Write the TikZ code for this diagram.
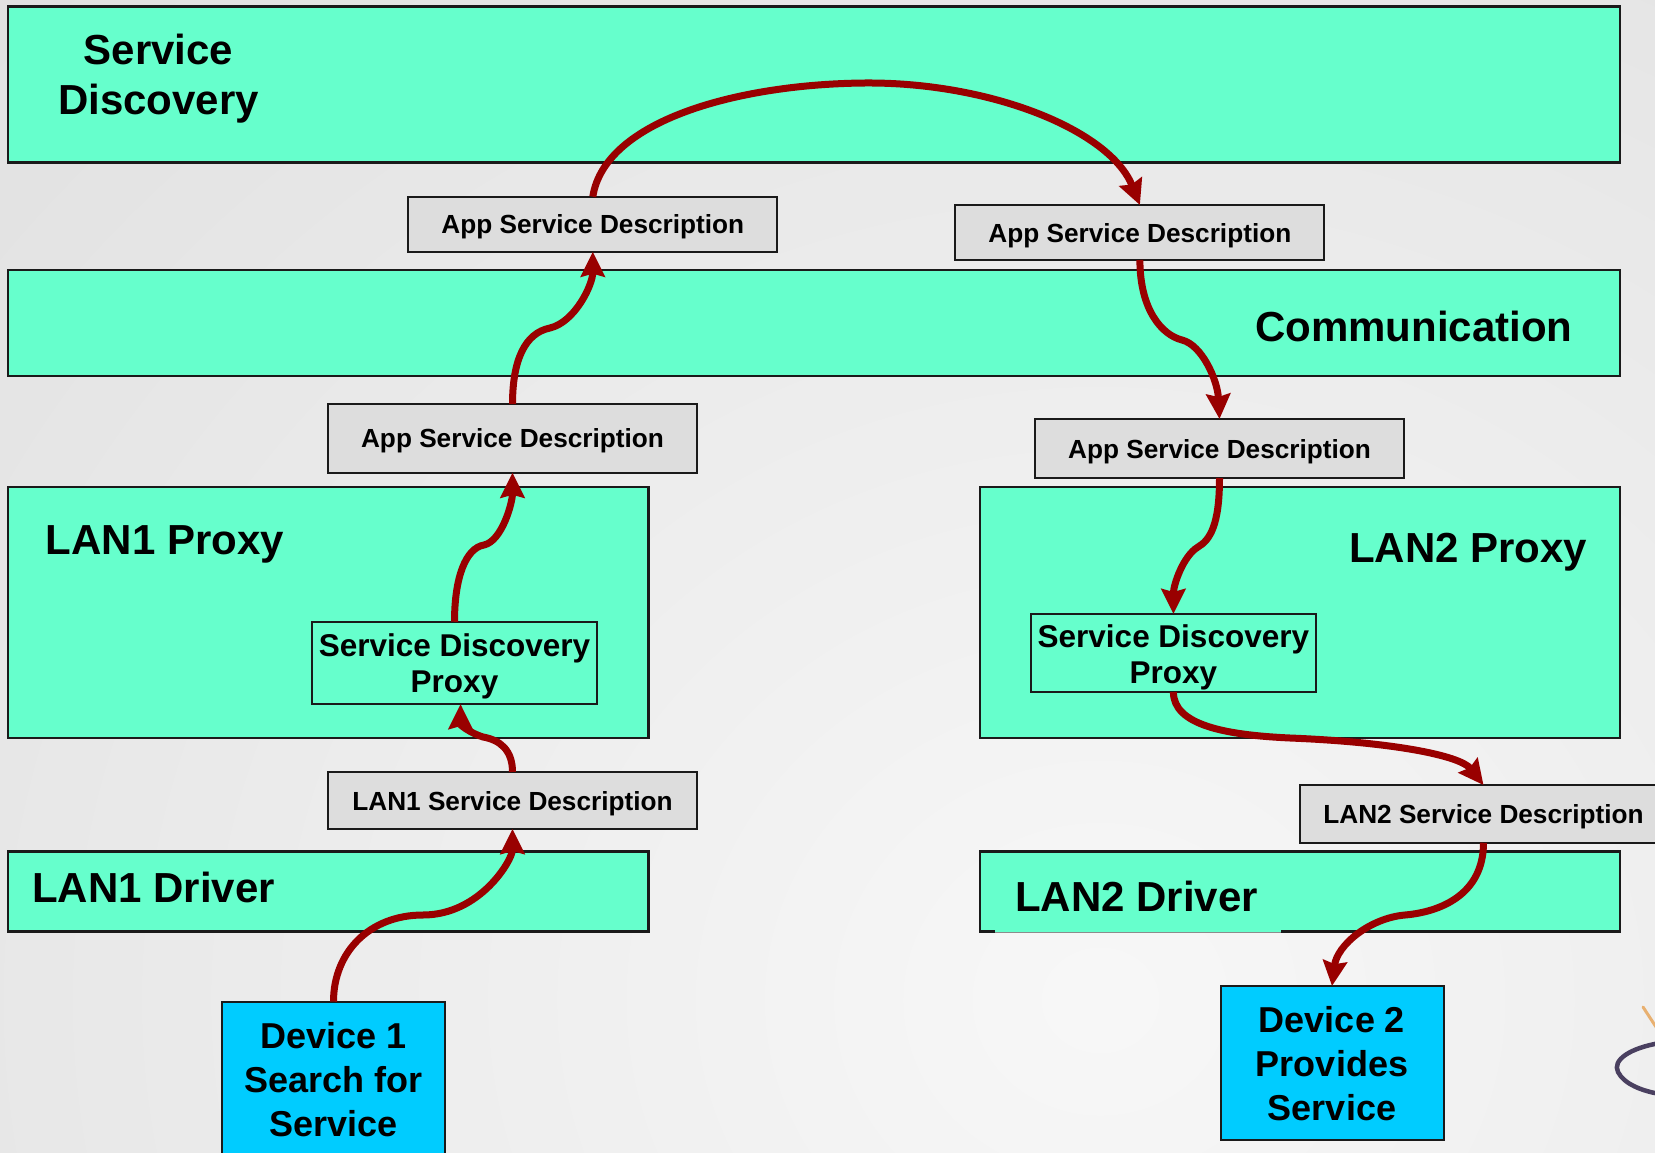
\documentclass[tikz,border=0pt]{standalone}
\usepackage{fontspec}
\setmainfont{Liberation Sans}
\usetikzlibrary{arrows.meta,calc}

\definecolor{bandgreen}{HTML}{66FFCC}
\definecolor{devblue}{HTML}{00CCFF}
\definecolor{descgray}{HTML}{DDDDDD}
\definecolor{flowred}{HTML}{990000}
\definecolor{edgeblack}{HTML}{1A1A1A}
\definecolor{photoink}{HTML}{4A4060}
\definecolor{photoorange}{HTML}{E8B070}

\begin{document}
\begin{tikzpicture}[x=1pt,y=-1pt,
  band/.style={draw=edgeblack, line width=2.5pt, fill=bandgreen, anchor=north west,
    inner sep=0pt, outer sep=0pt},
  bandlabel/.style={font=\fontsize{42}{50}\selectfont\bfseries, inner sep=0pt, anchor=base west},
  descbox/.style={draw=edgeblack, line width=2pt, fill=descgray,
    font=\fontsize{26.2}{31}\selectfont\bfseries, text height=19pt, text depth=0pt,
    inner sep=0pt, outer sep=0pt, minimum width=369pt},
  proxybox/.style={draw=edgeblack, line width=2pt, fill=bandgreen,
    font=\fontsize{31.5}{36}\selectfont\bfseries, text height=25.2pt, text depth=37.2pt,
    inner sep=0pt, outer sep=0pt, minimum width=285pt},
  devbox/.style={draw=edgeblack, line width=2pt, fill=devblue,
    font=\fontsize{36}{44}\selectfont\bfseries, text height=30.8pt, text depth=91.8pt,
    inner sep=0pt, outer sep=0pt, minimum width=223pt, minimum height=154pt},
  flow/.style={draw=flowred, line width=7pt, -{Stealth[length=25pt,width=24pt,inset=3pt]}}
]

% canvas and soft grey backdrop
\useasboundingbox (0,0) rectangle (1655,1153);
\clip (0,0) rectangle (1655,1153);
\fill[black!12] (0,0) rectangle (1655,1153);
\shade[inner color=black!3, outer color=black!20] (-1900,-1700) rectangle (4100,3700);
\draw[photoorange, line width=3pt, line cap=round] (1643,1007) -- (1658,1030);
\draw[photoink, line width=4.5pt] (1660,1043) .. controls (1630,1048) and (1612,1060) .. (1618,1072)
  .. controls (1624,1084) and (1642,1091) .. (1660,1094);

% layers
\node[band, minimum width=1612pt, minimum height=156.2pt] (sdlayer) at (8,6.3) {};
\node[band, minimum width=1612pt, minimum height=106pt] (commlayer) at (8,270) {};
\node[band, minimum width=640.5pt, minimum height=251pt] (lanaproxy) at (8,487) {};
\node[band, minimum width=640pt, minimum height=251pt] (lanbproxy) at (980,487) {};
\node[band, minimum width=640.5pt, minimum height=80pt] (lanadrv) at (8,851.7) {};
\node[band, minimum width=640pt, minimum height=80pt] (lanbdrv) at (980,851.7) {};
\draw[bandgreen, line width=2.6pt] (995,931.7) -- (1281,931.7);
\draw[black!45, line width=1pt] (995,932.4) -- (1281,932.4);

% layer titles
\node[anchor=base, inner sep=0pt, font=\fontsize{42}{50}\selectfont\bfseries] (sdtitle)
  at (158.5,65) {\begin{tabular}[t]{@{}c@{}}Service\\Discovery\end{tabular}};
\node[bandlabel] (commtitle) at (1255,341) {Communication};
\node[bandlabel] (lanaproxytitle) at (45.6,554) {LAN1 Proxy};
\node[bandlabel] (lanbproxytitle) at (1349,562) {LAN2 Proxy};
\node[bandlabel] (lanadrvtitle) at (32,902) {LAN1 Driver};
\node[bandlabel] (lanbdrvtitle) at (1015,911.7) {LAN2 Driver};

% service descriptions
\node[descbox, minimum height=55pt] (appa) at (592.8,224.2) {App Service Description};
\node[descbox, minimum height=55pt] (appb) at (1139.9,232.5) {App Service Description};
\node[descbox, minimum height=68.7pt] (appc) at (512.5,438.4) {App Service Description};
\node[descbox, minimum height=59pt] (appd) at (1219.5,448.5) {App Service Description};
\node[descbox, minimum height=57pt] (lanadesc) at (512.5,800.5) {LAN1 Service Description};
\node[descbox, minimum height=57.7pt, minimum width=367pt] (lanbdesc) at (1483.5,813.9) {LAN2 Service Description};

% proxies
\node[proxybox, minimum height=82.3pt] (sdpa) at (454.5,662.9)
  {\begin{tabular}[t]{@{}c@{}}Service Discovery\\Proxy\end{tabular}};
\node[proxybox, minimum height=78pt] (sdpb) at (1173.4,653)
  {\begin{tabular}[t]{@{}c@{}}Service Discovery\\Proxy\end{tabular}};

% devices
\node[devbox] (deva) at (333.5,1078.7)
  {\begin{tabular}[t]{@{}c@{}}Device 1\\Search for\\Service\end{tabular}};
\node[devbox] (devb) at (1332,1063)
  {\begin{tabular}[t]{@{}c@{}}Device 2\\Provides\\Service\end{tabular}};

% discovery flow
\draw[flow] (deva.north) .. controls +(0,-50) and +(-53,0) .. (423,915)
  .. controls +(57,0) and +(0,31) .. (lanadesc.south);
\draw[flow] (lanadesc.north) .. controls +(0,-22) and +(17,3) .. (483,737)
  .. controls +(-13,-4) and +(0,21) .. ($(sdpa.south)+(6,0)$);
\draw[flow] (sdpa.north) .. controls +(0,-45) and +(-18,3) .. (484,545)
  .. controls +(18,-4) and +(0,30) .. (appc.south);
\draw[flow] (appc.north) .. controls +(0,-44) and +(-25,5) .. (550,328)
  .. controls +(25,-6) and +(0,33) .. (appa.south);
\draw[flow] (appa.north) .. controls +(12,-77) and +(-125,1) .. (865,83)
  .. controls +(125,-1) and +(-30,-75) .. (appb.north);
\draw[flow] (appb.south) .. controls +(0,50) and +(-20,-5) .. (1182,340)
  .. controls +(20,5) and +(-2,-39) .. (appd.north);
\draw[flow] (appd.south) .. controls +(0,47) and +(12,-7) .. (1198,547)
  .. controls +(-15,9) and +(0,-29) .. (sdpb.north);
\draw[flow] (sdpb.south) .. controls +(0,33) and +(-65,-3) .. (1290,738)
  .. controls +(100,4) and +(-23.5,-30) .. (lanbdesc.north);
\draw[flow] (lanbdesc.south) .. controls +(0,52) and +(35,-3) .. (1405,915)
  .. controls +(-35,3) and +(5,-41) .. (devb.north);
\end{tikzpicture}
\end{document}
